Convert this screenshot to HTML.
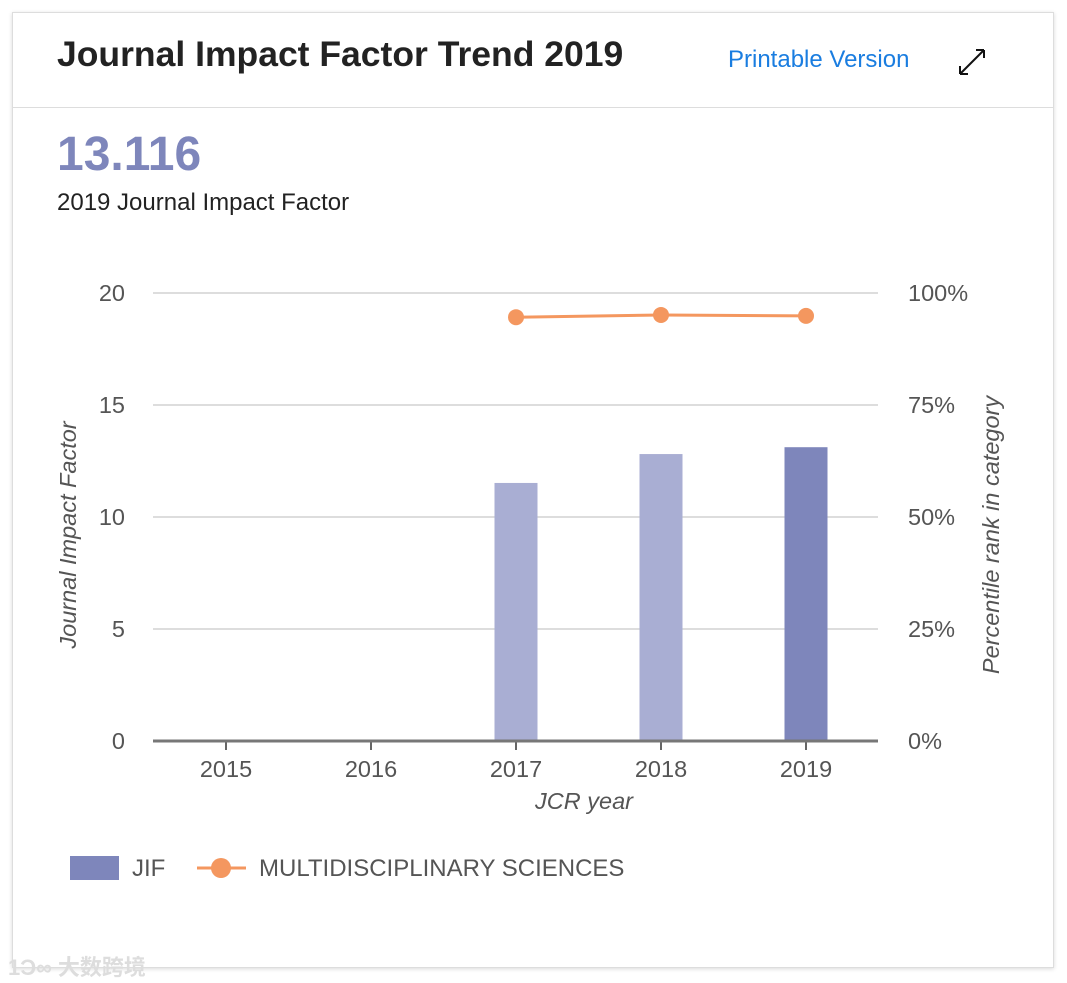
<!DOCTYPE html>
<html><head><meta charset="utf-8">
<style>
body{margin:0;width:1067px;height:983px;background:#fff;font-family:"Liberation Sans","Noto Sans CJK SC",sans-serif;position:relative;overflow:hidden}
.card{position:absolute;left:12px;top:12px;width:1040px;height:954px;border:1px solid #ddd;box-shadow:0 1px 4px rgba(0,0,0,.15);background:#fff}
.hdr{position:absolute;left:0;top:0;width:1040px;height:94px;border-bottom:1px solid #ddd}
</style></head><body>
<div class="card">
 <div class="hdr">
  <div style="position:absolute;left:44px;top:21px;font-size:35.5px;font-weight:bold;color:#222">Journal Impact Factor Trend 2019</div>
  <div style="position:absolute;left:715px;top:33px;font-size:24px;color:#1a7de0;cursor:pointer">Printable Version</div>
  <svg style="position:absolute;left:944px;top:34px" width="30" height="30" viewBox="0 0 30 30"><path d="M3 27 L27 3 M3 27 L3 19 M3 27 L11 27 M27 3 L19 3 M27 3 L27 11" stroke="#111" stroke-width="2" fill="none"/></svg>
 </div>
 <div style="position:absolute;left:44px;top:114px;font-size:48px;font-weight:bold;color:#7e86bb">13.116</div>
 <div style="position:absolute;left:44px;top:176px;font-size:24px;color:#222">2019 Journal Impact Factor</div>
</div>
<svg id="chart" style="position:absolute;left:0;top:0" width="1067" height="983"></svg>
<div style="position:absolute;left:8px;top:950px;font-size:22px;color:#ddd;font-weight:bold">1Ͻ∞ 大数跨境</div>
<script>
const years=["2015","2016","2017","2018","2019"];
const jif=[null,null,11.52,12.81,13.116];
const pct=[null,null,94.6,95.1,94.9];
const yTicks=[0,5,10,15,20];
const pTicks=["0%","25%","50%","75%","100%"];
const NS="http://www.w3.org/2000/svg";
const svg=document.getElementById('chart');
const x0=153,x1=878,yb=741,yt=293;
const xs=i=>226+i*145;
const yJ=v=>yb-(v/20)*(yb-yt);
const yP=v=>yb-(v/100)*(yb-yt);
const FS=23.5;
function mk(t,a,txt){const e=document.createElementNS(NS,t);for(const k in a)e.setAttribute(k,a[k]);if(txt!=null)e.textContent=txt;svg.appendChild(e);return e;}
yTicks.forEach((v,i)=>{
 if(v>0){const g=mk('line',{x1:x0,x2:x1,y1:yJ(v),y2:yJ(v),stroke:'#ddd','stroke-width':2});
 
 }
 const t=mk('text',{x:125,y:yJ(v)+8,'text-anchor':'end','font-size':FS,fill:'#555','font-family':'Liberation Sans'},v);
 
 
 const r=mk('text',{x:908,y:yJ(v)+8,'font-size':FS,fill:'#555','font-family':'Liberation Sans'},pTicks[i]);
 
 
});
years.forEach((y,i)=>{
 if(jif[i]!=null){const b=mk('rect',{x:xs(i)-21.5,y:yJ(jif[i]),width:43,height:yb-yJ(jif[i]),fill:i===years.length-1?'#7e86bb':'#a9aed3'});
 
 }
 const tk=mk('line',{x1:xs(i),x2:xs(i),y1:yb,y2:yb+9,stroke:'#666','stroke-width':2});
 
 
 const t=mk('text',{x:xs(i),y:777,'text-anchor':'middle','font-size':FS,fill:'#555','font-family':'Liberation Sans'},y);
 
 
});
const ax=mk('line',{x1:x0,x2:x1,y1:yb,y2:yb,stroke:'#777','stroke-width':3});


let d='';pct.forEach((v,i)=>{if(v!=null)d+=(d?'L':'M')+xs(i)+' '+yP(v);});
const ln=mk('path',{d:d,stroke:'#f4975f','stroke-width':3,fill:'none'});


pct.forEach((v,i)=>{if(v!=null){const c=mk('circle',{cx:xs(i),cy:yP(v),r:8,fill:'#f4975f'});
 
 }});
const xt=mk('text',{x:584,y:809,'text-anchor':'middle','font-size':FS,'font-style':'italic',fill:'#555','font-family':'Liberation Sans'},'JCR year');


const yt1=mk('text',{x:0,y:0,transform:'translate(76,535) rotate(-90)','text-anchor':'middle','font-size':FS,'font-style':'italic',fill:'#555','font-family':'Liberation Sans'},'Journal Impact Factor');


const yt2=mk('text',{x:0,y:0,transform:'translate(999,535) rotate(-90)','text-anchor':'middle','font-size':FS,'font-style':'italic',fill:'#555','font-family':'Liberation Sans'},'Percentile rank in category');


const l1=mk('rect',{x:70,y:856,width:49,height:24,fill:'#7e86bb'});


const l1t=mk('text',{x:132,y:876,'font-size':24,fill:'#555','font-family':'Liberation Sans'},'JIF');


const l2=mk('line',{x1:197,x2:246,y1:868,y2:868,stroke:'#f4975f','stroke-width':3});


const l2c=mk('circle',{cx:221,cy:868,r:10,fill:'#f4975f'});


const l2t=mk('text',{x:259,y:876,'font-size':24,fill:'#555','font-family':'Liberation Sans'},'MULTIDISCIPLINARY SCIENCES');


</script>
</body></html>
